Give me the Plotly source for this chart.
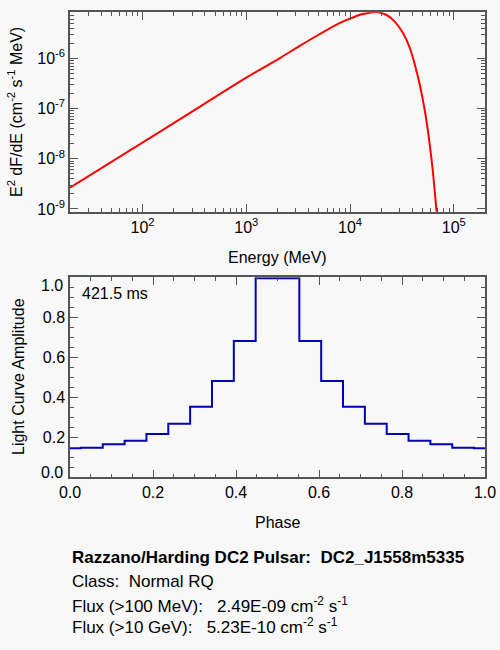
import numpy as np
import plotly.graph_objs as go

# spectrum (MeV, cm^-2 s^-1 MeV)
energy_mev = [20, 200, 1000, 2110, 3300, 5130, 8000, 10000, 12470, 15560,
              18000, 22500, 27000, 32500, 37800, 42200, 47100, 51400, 55300,
              58700, 62400, 65600, 70000]
e2dfde = [2.67e-9, 5.12e-8, 4.1e-7, 1.01e-6, 1.78e-6, 3.04e-6, 5.04e-6,
          6.14e-6, 7.36e-6, 8.07e-6, 8.3e-6, 7.26e-6, 5.35e-6, 3.14e-6,
          1.58e-6, 7.36e-7, 2.94e-7, 1.18e-7, 4.72e-8, 1.89e-8, 6.49e-9,
          2.23e-9, 5.0e-10]

# light curve, 19 bins centred on k/19 (last point wraps to phase 1)
phase = [k / 19 for k in range(20)]
amplitude = [0.145, 0.148, 0.165, 0.183, 0.217, 0.268, 0.353, 0.482, 0.682,
             0.995, 0.995, 0.682, 0.482, 0.353, 0.268, 0.217, 0.183, 0.165,
             0.148, 0.145]

period_text = "421.5 ms"
info_lines = [
    "<b>Razzano/Harding DC2 Pulsar:  DC2_J1558m5335</b>",
    "Class:  Normal RQ",
    "Flux (>100 MeV):   2.49E-09 cm<sup>-2</sup> s<sup>-1</sup>",
    "Flux (>10 GeV):   5.23E-10 cm<sup>-2</sup> s<sup>-1</sup>",
]

energy_ticks = [1e2, 1e3, 1e4, 1e5]
energy_ticktext = ["10<sup>2</sup>", "10<sup>3</sup>", "10<sup>4</sup>", "10<sup>5</sup>"]
flux_ticks = [1e-9, 1e-8, 1e-7, 1e-6]
flux_ticktext = ["10<sup>-9</sup>", "10<sup>-8</sup>", "10<sup>-7</sup>", "10<sup>-6</sup>"]

FONT = "Liberation Sans, Arial, Helvetica, sans-serif"
AXC = "#555555"
BG = "#f8f8f8"

spec_line = go.Scatter(
    x=energy_mev, y=e2dfde, mode="lines", line=dict(color="rgb(255,0,0)", width=2, shape="spline", smoothing=0.8),
    xaxis="x", yaxis="y", showlegend=False, hoverinfo="skip",
)

lc_line = go.Scatter(
    x=phase, y=amplitude, mode="lines", line=dict(color="rgb(0,0,180)", width=2, shape="hvh"),
    xaxis="x2", yaxis="y2", showlegend=False, hoverinfo="skip",
)

axis_common = dict(
    showline=True, linecolor=AXC, linewidth=1.5, mirror="ticks",
    ticks="inside", ticklen=8, tickwidth=1, tickcolor=AXC,
    showgrid=False, zeroline=False, automargin=False,
    tickfont=dict(family=FONT, size=16, color="black"),
)

layout = go.Layout(
    width=500, height=650,
    margin=dict(l=0, r=0, t=0, b=0),
    paper_bgcolor=BG, plot_bgcolor=BG,
    font=dict(family=FONT, size=16, color="black"),
    xaxis=dict(
        axis_common, type="log", domain=[0.14, 0.97], anchor="y",
        range=[np.log10(20), np.log10(2e5)],
        tickvals=energy_ticks, ticktext=energy_ticktext,
        minor=dict(ticks="inside", ticklen=4, tickcolor=AXC, dtick="D1", showgrid=False),
    ),
    yaxis=dict(
        axis_common, type="log", domain=[0.6743, 0.9811], anchor="x",
        range=[-9.054, -5.085],
        tickvals=flux_ticks, ticktext=flux_ticktext,
        minor=dict(ticks="inside", ticklen=4, tickcolor=AXC, dtick="D1", showgrid=False),
    ),
    xaxis2=dict(
        axis_common, domain=[0.14, 0.97], anchor="y2", range=[0, 1],
        tickvals=[0, 0.2, 0.4, 0.6, 0.8, 1.0], ticktext=["0.0", "0.2", "0.4", "0.6", "0.8", "1.0"],
        minor=dict(ticks="inside", ticklen=4, tickcolor=AXC, dtick=0.05, showgrid=False),
    ),
    yaxis2=dict(
        axis_common, domain=[0.2657, 0.5734], anchor="x2", range=[0, 1],
        tickvals=[0.2, 0.4, 0.6, 0.8], ticktext=["0.2", "0.4", "0.6", "0.8"],
        minor=dict(ticks="inside", ticklen=4, tickcolor=AXC, dtick=0.05, showgrid=False),
    ),
)

fig = go.Figure(data=[spec_line, lc_line], layout=layout)

# end labels of the light curve y axis sit inside the frame
for val, yp in [("1.0", 285), ("0.0", 472)]:
    fig.add_annotation(text=val, xref="paper", yref="paper", x=65 / 500, y=1 - yp / 650,
                       xanchor="right", yanchor="middle", showarrow=False, font=dict(size=16))

# axis titles
fig.add_annotation(text="Energy (MeV)", xref="paper", yref="paper", x=277 / 500, y=1 - 257 / 650,
                   xanchor="center", yanchor="middle", showarrow=False, font=dict(size=16))
fig.add_annotation(text="Phase", xref="paper", yref="paper", x=277 / 500, y=1 - 522 / 650,
                   xanchor="center", yanchor="middle", showarrow=False, font=dict(size=16))
fig.add_annotation(text="E<sup>2</sup> dF/dE (cm<sup>-2</sup> s<sup>-1</sup> MeV)", xref="paper", yref="paper",
                   x=15 / 500, y=1 - 112 / 650, textangle=-90,
                   xanchor="center", yanchor="middle", showarrow=False, font=dict(size=16))
fig.add_annotation(text="Light Curve Amplitude", xref="paper", yref="paper",
                   x=18 / 500, y=1 - 377 / 650, textangle=-90,
                   xanchor="center", yanchor="middle", showarrow=False, font=dict(size=16))

fig.add_annotation(text=period_text, xref="paper", yref="paper", x=80 / 500, y=1 - 293 / 650,
                   xanchor="left", yanchor="middle", showarrow=False, font=dict(size=16))

# info block under the plots
for line, yp in zip(info_lines, [557, 581, 605, 626]):
    fig.add_annotation(text=line, xref="paper", yref="paper", x=70 / 500, y=1 - yp / 650,
                       xanchor="left", yanchor="middle", showarrow=False, font=dict(size=17))

# page has a default body margin, drop it so the figure sits at 0,0
fig.write_html("out.html", config={"displayModeBar": False},
               post_script="document.body.style.margin='0';")
